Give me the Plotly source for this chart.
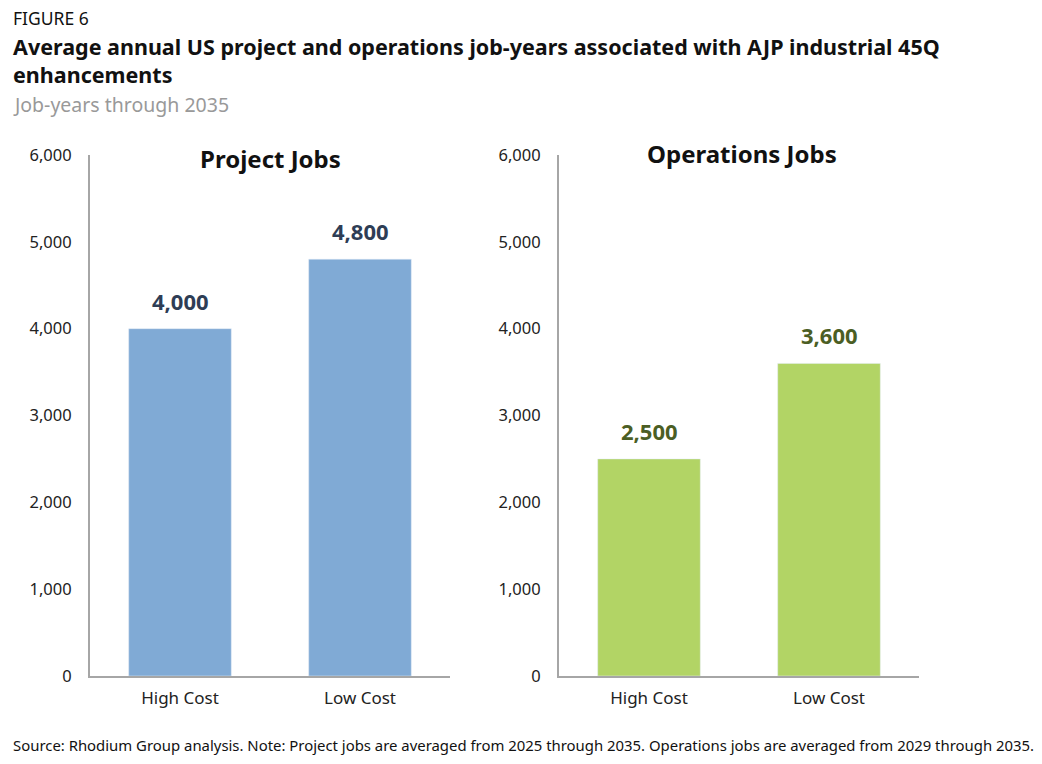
import plotly.graph_objects as go

categories = ["High Cost", "Low Cost"]
project_jobs = [4000, 4800]
operations_jobs = [2500, 3600]
y_ticks = [0, 1000, 2000, 3000, 4000, 5000, 6000]

FONT = "Noto Sans"
W, H = 1042, 764

def px(x):
    return x / W

def py(y):
    return 1 - y / H

fig = go.Figure()
fig.add_trace(go.Bar(x=categories, y=project_jobs, marker_color="#80AAD5", width=0.57,
                     xaxis="x", yaxis="y", showlegend=False, hoverinfo="skip"))
fig.add_trace(go.Bar(x=categories, y=operations_jobs, marker_color="#B2D465", width=0.57,
                     xaxis="x2", yaxis="y2", showlegend=False, hoverinfo="skip"))

annotations = []
for c, v in zip(categories, project_jobs):
    annotations.append(dict(x=c, y=v, xref="x", yref="y", text=f"<b>{v:,}</b>", showarrow=False,
                            yanchor="bottom", yshift=11, font=dict(family=FONT, size=22, color="#2E3D55")))
for c, v in zip(categories, operations_jobs):
    annotations.append(dict(x=c, y=v, xref="x2", yref="y2", text=f"<b>{v:,}</b>", showarrow=False,
                            yanchor="bottom", yshift=11, font=dict(family=FONT, size=22, color="#4B5E24")))

annotations += [
    dict(x=px(270), y=py(158), xref="paper", yref="paper", text="<b>Project Jobs</b>", showarrow=False,
         xanchor="center", yanchor="middle", font=dict(family=FONT, size=24, color="#111")),
    dict(x=px(742), y=py(154), xref="paper", yref="paper", text="<b>Operations Jobs</b>", showarrow=False,
         xanchor="center", yanchor="middle", font=dict(family=FONT, size=24, color="#111")),
    dict(x=px(11), y=py(18), xref="paper", yref="paper", text="FIGURE 6", showarrow=False,
         xanchor="left", yanchor="middle", font=dict(family=FONT, size=17.5, color="#111")),
    dict(x=px(11), y=py(61), xref="paper", yref="paper",
         text="<b>Average annual US project and operations job-years associated with AJP industrial 45Q<br>enhancements</b>",
         showarrow=False, xanchor="left", yanchor="middle", align="left",
         font=dict(family=FONT, size=21.5, color="#111")),
    dict(x=px(11), y=py(105), xref="paper", yref="paper", text="Job-years through 2035", showarrow=False,
         xanchor="left", yanchor="middle", font=dict(family=FONT, size=19.5, color="#999999")),
    dict(x=px(11), y=py(745), xref="paper", yref="paper",
         text="Source: Rhodium Group analysis. Note: Project jobs are averaged from 2025 through 2035. Operations jobs are averaged from 2029 through 2035.",
         showarrow=False, xanchor="left", yanchor="middle", font=dict(family=FONT, size=14.9, color="#111")),
]

ydom = [py(676), py(155)]
xaxis_common = dict(showline=True, linecolor="#A6A6A6", linewidth=2, showgrid=False, zeroline=False,
                    range=[-0.5, 1.5], ticks="", ticklabelstandoff=6, automargin=False,
                    tickfont=dict(family=FONT, size=17, color="#222"), fixedrange=True)
yaxis_common = dict(showline=True, linecolor="#A6A6A6", linewidth=2, showgrid=False, zeroline=False,
                    range=[0, 6000], tickvals=y_ticks, tickformat=",", ticks="", ticklabelstandoff=13,
                    automargin=False,
                    tickfont=dict(family=FONT, size=16.5, color="#222"), fixedrange=True)

fig.update_layout(
    width=W, height=H,
    margin=dict(l=0, r=0, t=0, b=0, pad=0, autoexpand=False),
    paper_bgcolor="white", plot_bgcolor="white",
    xaxis=dict(domain=[px(90), px(450)], anchor="y", **xaxis_common),
    yaxis=dict(domain=ydom, anchor="x", **yaxis_common),
    xaxis2=dict(domain=[px(559), px(919)], anchor="y2", **xaxis_common),
    yaxis2=dict(domain=ydom, anchor="x2", **yaxis_common),
    annotations=annotations,
    bargap=0.43,
)

fig.write_html("out.html")
